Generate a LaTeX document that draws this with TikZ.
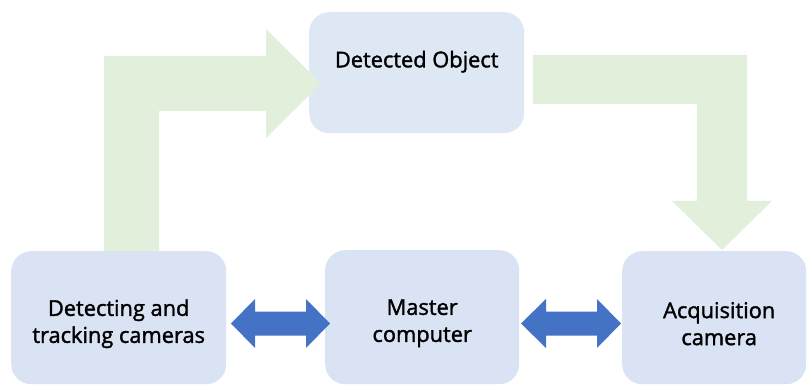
\documentclass[tikz,border=0pt]{standalone}
\usepackage{fontspec}
\setmainfont{Open Sans}
\newfontfamily\labelfont{Open Sans}[FakeBold=1.6]
\definecolor{boxblue}{HTML}{DAE3F3}
\definecolor{boxtop}{HTML}{DEE8F5}
\definecolor{lightgreen}{HTML}{E2EFDA}
\definecolor{arrowblue}{HTML}{4472C4}
\begin{document}
\begin{tikzpicture}[x=1pt,y=-1pt,
  font=\labelfont\fontsize{21.8}{27}\selectfont,
  box/.style={rectangle, rounded corners=20pt, fill=boxblue, draw=none, inner sep=0pt, anchor=north west},
  txt/.style={align=center, inner sep=0pt, text=black},
  greenarrow/.style={fill=lightgreen, draw=none},
  bluearrow/.style={fill=arrowblue, draw=none}]
\useasboundingbox (0,0) rectangle (807,385);
% boxes
\node[box, fill=boxtop, minimum width=215pt, minimum height=121pt] (obj) at (309,12) {};
\node[box, minimum width=215pt, minimum height=133pt] (det) at (11,251) {};
\node[box, minimum width=194pt, minimum height=134pt] (mas) at (325,250) {};
\node[box, minimum width=184pt, minimum height=133pt] (acq) at (622,251) {};
% texts
\node[txt] (objt) at ([yshift=11pt]obj.center) {Detected Object};
\node[txt] (dett) at ([yshift=-6pt]det.center) {Detecting and\\tracking cameras};
\node[txt] (mast) at ([yshift=-6pt]mas.center) {Master\\computer};
\node[txt] (acqt) at ([xshift=5pt,yshift=-6pt]acq.center) {Acquisition\\camera};
% green block arrows
\fill[greenarrow] (104,251) -- (104,56) -- (266,56) -- (266,29) -- (321,83.5) -- (266,138) -- (266,111) -- (159,111) -- (159,251) -- cycle;
\fill[greenarrow] (533,55) -- (747,55) -- (747,201) -- (772,201) -- (722,250) -- (672,201) -- (697,201) -- (697,104) -- (533,104) -- cycle;
% blue double arrows
\fill[bluearrow] (231,323.5) -- (255,299) -- (255,311.5) -- (306,311.5) -- (306,299) -- (330,323.5) -- (306,348) -- (306,335.5) -- (255,335.5) -- (255,348) -- cycle;
\fill[bluearrow] (521,323.5) -- (546,299) -- (546,311.5) -- (597,311.5) -- (597,299) -- (621,323.5) -- (597,348) -- (597,335.5) -- (546,335.5) -- (546,348) -- cycle;
\end{tikzpicture}
\end{document}
